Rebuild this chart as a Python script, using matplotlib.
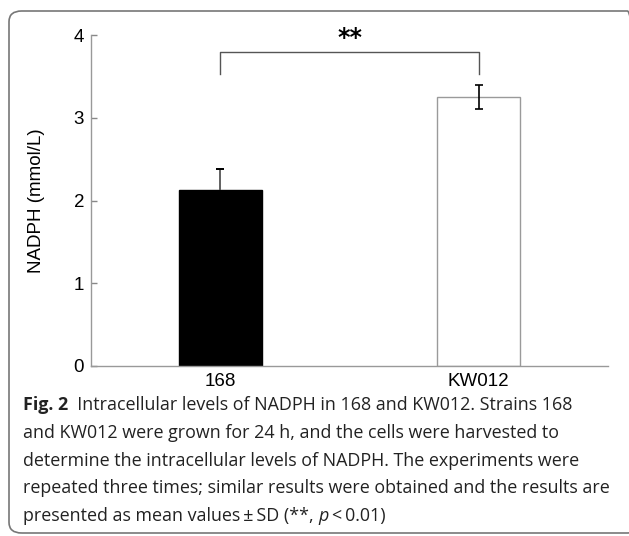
import matplotlib

matplotlib.use("Agg")
import matplotlib.pyplot as plt
from matplotlib.patches import FancyBboxPatch

plt.rcParams["font.family"] = ["Liberation Sans", "DejaVu Sans"]

# data
strains = ["168", "KW012"]
nadph_mean = [2.13, 3.25]
nadph_sd = [0.25, 0.14]
bar_fill = ["black", "white"]
bar_edge = ["black", "#9a9a9a"]
sig_label = "**"
y_ticks = [0, 1, 2, 3, 4]

caption_lines = [
    [("Fig. 2", "bold", "normal"), ("  Intracellular levels of NADPH in 168 and KW012. Strains 168", "normal", "normal")],
    [("and KW012 were grown for 24 h, and the cells were harvested to", "normal", "normal")],
    [("determine the intracellular levels of NADPH. The experiments were", "normal", "normal")],
    [("repeated three times; similar results were obtained and the results are", "normal", "normal")],
    [("presented as mean values\u2009\u00b1\u2009SD (**, ", "normal", "normal"), ("p", "normal", "italic"),
     ("\u2009<\u20090.01)", "normal", "normal")],
]

W, H = 629, 536
fig = plt.figure(figsize=(W / 100, H / 100), dpi=100)
ax = fig.add_axes([91 / W, 1 - 366 / H, (608 - 91) / W, (366 - 35) / H])

x = list(range(len(strains)))
ax.bar(x, nadph_mean, width=0.32, color=bar_fill, edgecolor=bar_edge, linewidth=1.0, zorder=2)

# 168: only the upper whisker shows above the black bar
ax.errorbar(x[0], nadph_mean[0], yerr=[[0], [nadph_sd[0]]], fmt="none", ecolor="#555555",
            elinewidth=1.3, capsize=0, zorder=3)
ax.errorbar(x[0], nadph_mean[0] + nadph_sd[0], yerr=0, fmt="none", ecolor="black",
            capsize=3.2, capthick=1.3, zorder=3)
ax.errorbar(x[1], nadph_mean[1], yerr=nadph_sd[1], fmt="none", ecolor="black",
            elinewidth=1.2, capsize=3.2, capthick=1.2, zorder=3)

# significance bracket
b_top, b_leg = 3.79, 3.53
ax.plot([x[0], x[0], x[1], x[1]], [b_leg, b_top, b_top, b_leg], color="#555555", lw=1.0,
        clip_on=False, zorder=3)
ax.text((x[0] + x[1]) / 2, 3.96, sig_label, ha="center", va="center", fontsize=17,
        fontweight="bold", fontfamily="DejaVu Sans", clip_on=False)

ax.set_xlim(-0.5, 1.5)
ax.set_ylim(0, 4)
ax.set_yticks(y_ticks)
ax.set_xticks(x)
ax.set_xticklabels(strains, fontsize=13.5)
ax.tick_params(axis="x", length=0, pad=5)
ax.tick_params(axis="y", direction="in", length=4, width=1, color="#888888", labelsize=13.5, pad=5)
for side in ("top", "right"):
    ax.spines[side].set_visible(False)
for side in ("left", "bottom"):
    ax.spines[side].set_color("#999999")
    ax.spines[side].set_linewidth(1.0)
ax.set_ylabel("NADPH (mmol/L)", fontsize=13.5)
ax.yaxis.set_label_coords(-0.089, 0.5)

# rounded caption frame
frame = FancyBboxPatch((9 / W, 1 - 533 / H), (640 - 9) / W, (533 - 11) / H,
                       boxstyle="round,pad=0,rounding_size=0.02", transform=fig.transFigure,
                       facecolor="none", edgecolor="#777777", linewidth=1.2, zorder=0)
fig.patches.append(frame)

# caption, run by run so bold / italic pieces line up
fig.canvas.draw()
renderer = fig.canvas.get_renderer()
cap_font = ["Open Sans", "DejaVu Sans"]
y_line = 405
for line in caption_lines:
    x_px = 23
    for txt, weight, style in line:
        t = fig.text(x_px / W, 1 - y_line / H, txt, fontsize=12.9, fontweight=weight, fontstyle=style,
                     fontfamily=cap_font, va="center", ha="left", color="#222222")
        bb = t.get_window_extent(renderer)
        x_px += bb.width
    y_line += 27.8

fig.savefig("out.png", dpi=100)
